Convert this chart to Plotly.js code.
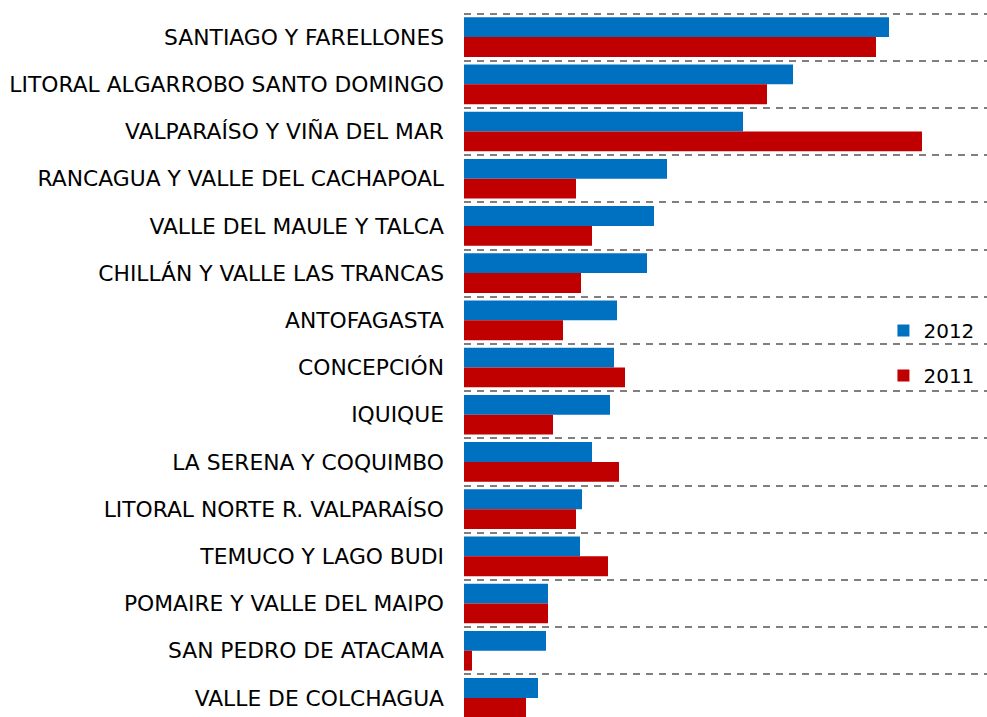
<!DOCTYPE html>
<html>
<head>
<meta charset="utf-8">
<script src="https://cdn.plot.ly/plotly-3.0.1.min.js"></script>
<style>
  html, body { margin: 0; padding: 0; background: #fff; }
  #chart { width: 987px; height: 717px; }
</style>
</head>
<body>
<div id="chart"></div>
<script>
const categories = [
  "SANTIAGO Y FARELLONES",
  "LITORAL ALGARROBO SANTO DOMINGO",
  "VALPARAÍSO Y VIÑA DEL MAR",
  "RANCAGUA Y VALLE DEL CACHAPOAL",
  "VALLE DEL MAULE Y TALCA",
  "CHILLÁN Y VALLE LAS TRANCAS",
  "ANTOFAGASTA",
  "CONCEPCIÓN",
  "IQUIQUE",
  "LA SERENA Y COQUIMBO",
  "LITORAL NORTE R. VALPARAÍSO",
  "TEMUCO Y LAGO BUDI",
  "POMAIRE Y VALLE DEL MAIPO",
  "SAN PEDRO DE ATACAMA",
  "VALLE DE COLCHAGUA"
];
const values2012 = [425, 329, 279, 203, 190, 183, 153, 150, 146, 128, 118, 116, 84, 82, 74];
const values2011 = [412, 303, 458, 112, 128, 117, 99, 161, 89, 155, 112, 144, 84, 8, 62];
const seriesNames = ["2012", "2011"];

const idx = categories.map((_, i) => i);

const traces = [
  {
    type: "bar", orientation: "h", name: seriesNames[0],
    x: values2012, y: idx, legendgroup: "a",
    marker: { color: "#0070C0", line: { width: 0 } },
    hoverinfo: "x+name"
  },
  {
    type: "bar", orientation: "h", name: seriesNames[1],
    x: values2011, y: idx, legendgroup: "b",
    marker: { color: "#C00000", line: { width: 0 } },
    hoverinfo: "x+name"
  }
];

const layout = {
  width: 987, height: 717,
  margin: { l: 464, r: 0, t: 12, b: 0, pad: 0, autoexpand: false },
  paper_bgcolor: "#fff", plot_bgcolor: "#fff",
  barmode: "group", bargap: 0.16, bargroupgap: 0,
  font: { family: "DejaVu Sans, Verdana, sans-serif", color: "#000", size: 21.8 },
  showlegend: true,
  legend: {
    x: 0.802, xanchor: "left", y: 0.576, yanchor: "top",
    bgcolor: "rgba(0,0,0,0)", borderwidth: 0,
    font: { size: 20, color: "#000" },
    traceorder: "grouped", tracegroupgap: 16,
    itemwidth: 30
  },
  xaxis: {
    range: [0, 523], showgrid: false, zeroline: false, showline: false,
    showticklabels: false, ticks: "", fixedrange: true
  },
  yaxis: {
    range: [14.404, -0.532], tickmode: "array", tickvals: idx, ticktext: categories,
    showgrid: false, zeroline: false, showline: false, ticks: "",
    ticklabelstandoff: 19,
    tickfont: { size: 21.8, color: "#000" },
    minor: {
      tickmode: "linear", tick0: 0.5, dtick: 1, ticks: "",
      showgrid: true, gridcolor: "#7f7f7f", gridwidth: 2, griddash: "7px,6px"
    }
  }
};

Plotly.newPlot("chart", traces, layout, { displayModeBar: false, staticPlot: true });
</script>
</body>
</html>
